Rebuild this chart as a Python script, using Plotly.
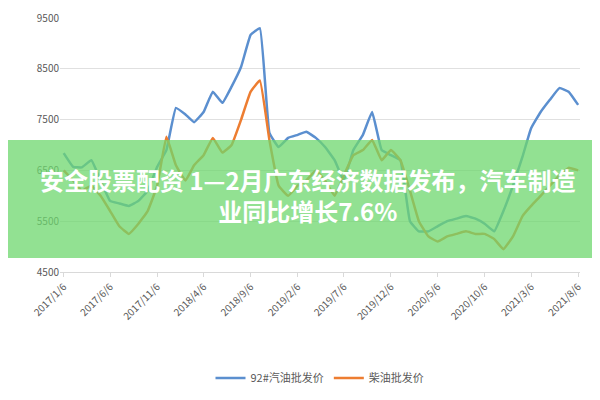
import plotly.graph_objects as go

# monthly readings (approx.) from the reference
months = ["2017-01-06", "2017-02-06", "2017-03-06", "2017-04-06", "2017-05-06", "2017-06-06",
          "2017-07-06", "2017-08-06", "2017-09-06", "2017-10-06", "2017-11-06", "2017-12-06",
          "2018-01-06", "2018-02-06", "2018-03-06", "2018-04-06", "2018-05-06", "2018-06-06",
          "2018-07-06", "2018-08-06", "2018-09-06", "2018-10-06", "2018-11-06", "2018-12-06",
          "2019-01-06", "2019-02-06", "2019-03-06", "2019-04-06", "2019-05-06", "2019-06-06",
          "2019-07-06", "2019-08-06", "2019-09-06", "2019-10-06", "2019-11-06", "2019-12-06",
          "2020-01-06", "2020-02-06", "2020-03-06", "2020-04-06", "2020-05-06", "2020-06-06",
          "2020-07-06", "2020-08-06", "2020-09-06", "2020-10-06", "2020-11-06", "2020-12-06",
          "2021-01-06", "2021-02-06", "2021-03-06", "2021-04-06", "2021-05-06", "2021-06-06",
          "2021-07-06", "2021-08-06"]
gasoline = [6840, 6570, 6560, 6700, 6300, 5900, 5850, 5800, 5900, 6100, 6570, 6900,
            7730, 7600, 7450, 7650, 8050, 7830, 8150, 8540, 9170, 9300, 7240, 6960,
            7140, 7200, 7260, 7140, 6960, 6700, 6300, 6900, 7200, 7650, 6900, 6800,
            6700, 5500, 5300, 5300, 5400, 5500, 5550, 5600, 5550, 5450, 5300, 5700,
            6200, 6770, 7330, 7650, 7890, 8120, 8050, 7790]
diesel = [6500, 6300, 6100, 6200, 6000, 5700, 5400, 5250, 5450, 5700, 6200, 7160,
          6600, 6300, 6600, 6800, 7140, 6850, 7000, 7500, 8050, 8270, 7100, 6200,
          6000, 6200, 6300, 6500, 6300, 6000, 6400, 6800, 6900, 7100, 6700, 6900,
          6700, 6100, 5500, 5200, 5100, 5200, 5250, 5300, 5250, 5250, 5150, 4950,
          5200, 5600, 5800, 6000, 6200, 6400, 6550, 6500]
tick_dates = ["2017-01-06", "2017-06-06", "2017-11-06", "2018-04-06", "2018-09-06", "2019-02-06",
              "2019-07-06", "2019-12-06", "2020-05-06", "2020-10-06", "2021-03-06", "2021-08-06"]
tick_labels = ["2017/1/6", "2017/6/6", "2017/11/6", "2018/4/6", "2018/9/6", "2019/2/6",
               "2019/7/6", "2019/12/6", "2020/5/6", "2020/10/6", "2021/3/6", "2021/8/6"]

fig = go.Figure()
fig.add_trace(go.Scatter(x=months, y=gasoline, mode="lines", name="92#汽油批发价",
                         line=dict(color="#5b8fcf", width=2.5, shape="spline", smoothing=0.3)))
fig.add_trace(go.Scatter(x=months, y=diesel, mode="lines", name="柴油批发价",
                         line=dict(color="#ed7d31", width=2.5, shape="spline", smoothing=0.3)))

fig.update_layout(
    width=600, height=400, margin=dict(l=52, r=28, t=10, b=136, autoexpand=False),
    plot_bgcolor="white", paper_bgcolor="white",
    font=dict(family="Noto Sans CJK SC", color="#595959", size=10),
    legend=dict(orientation="h", x=0.5, xanchor="center", y=-0.36, yanchor="top",
                font=dict(size=11)),
    xaxis=dict(tickvals=tick_dates, ticktext=tick_labels, tickangle=-45,
               showgrid=False, showline=True, linecolor="#d9d9d9",
               ticks="outside", tickcolor="#d9d9d9", ticklen=4,
               range=["2016-12-25", "2021-08-12"]),
    yaxis=dict(range=[4500, 9500], dtick=1000, tick0=4500, gridcolor="#e0e0e0",
               zeroline=False),
    shapes=[
        dict(type="rect", xref="paper", yref="paper", x0=-0.2, x1=1.2, y0=0.055, y1=0.52,
             fillcolor="rgba(110,215,110,0.75)", line=dict(width=0), layer="above"),
    ],
    annotations=[dict(text="<b>安全股票配资 1—2月广东经济数据发布，汽车制造<br>业同比增长7.6%</b>",
                      xref="paper", yref="paper", x=0.477, y=0.165, showarrow=False,
                      font=dict(size=24, color="white", family="Noto Sans CJK SC"),
                      align="center")],
)
fig.write_html("out.html")
